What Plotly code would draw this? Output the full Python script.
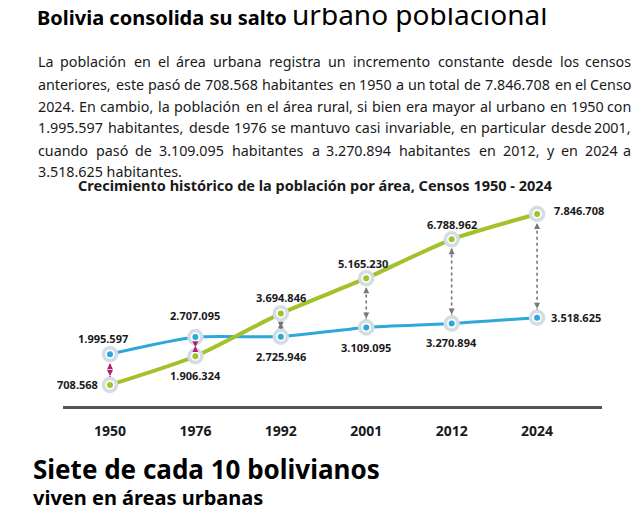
import os
import subprocess
import plotly.graph_objects as go

# ---------------- data ----------------
censos = ["1950", "1976", "1992", "2001", "2012", "2024"]
urbana = [708568, 1906324, 3694846, 5165230, 6788962, 7846708]
rural = [1995597, 2707095, 2725946, 3109095, 3270894, 3518625]

titulo_a = "Bolivia consolida su salto "
titulo_b = "urbano poblacional"
parrafo = [
    "La población en el área urbana registra un incremento constante desde los censos",
    "anteriores, este pasó de 708.568 habitantes en 1950 a un total de 7.846.708 en el Censo",
    "2024. En cambio, la población en el área rural, si bien era mayor al urbano en 1950 con",
    "1.995.597 habitantes, desde 1976 se mantuvo casi invariable, en particular desde 2001,",
    "cuando pasó de 3.109.095 habitantes a 3.270.894 habitantes en 2012, y en 2024 a",
    "3.518.625 habitantes.",
]
subtitulo = "Crecimiento histórico de la población por área, Censos 1950 - 2024"
pie_a = "Siete de cada 10 bolivianos"
pie_b = "viven en áreas urbanas"

# ---------------- styling ----------------
OFF = 8                      # default page margin of the html body
W, H = 641 - 2 * OFF, 517 - 2 * OFF
ML, MR, MT, MB = 63 - OFF, W - (602 - OFF), 200 - OFF, H - (406 - OFF)
GREEN = "#a2c12b"
BLUE = "#2ea7dc"
PINK = "#b3206f"
GREY = "#777777"
TXT = "#1a1a1a"
FONT = "Noto Sans"
PSIZE = 14.3


def fmt(v):
    return f"{v:,}".replace(",", ".")


def px(x):  # page pixel -> paper
    return (x - OFF - ML) / (W - ML - MR)


def py(y):
    return (H - MB - (y - OFF)) / (H - MT - MB)


# ---- text width measurement (for the justified paragraph) ----
def _find_font():
    try:
        p = subprocess.run(["fc-match", "-f", "%{file}", FONT], capture_output=True,
                           text=True, timeout=10).stdout.strip()
        if p and os.path.exists(p):
            return p
    except Exception:
        pass
    for root, _, files in os.walk("/usr/share/fonts"):
        for f in files:
            if f.startswith("NotoSans-Regular") or f.startswith("NotoSans[wdth"):
                return os.path.join(root, f)
    return None


_measure = None
try:
    from PIL import ImageFont
    _p = _find_font()
    if _p:
        _f = ImageFont.truetype(_p, 100)
        _measure = lambda s, size: _f.getlength(s) * size / 100.0
except Exception:
    _measure = None

_W = {" ": 260, ",": 250, ".": 268, "a": 561, "b": 615, "c": 480, "d": 615, "e": 564,
      "f": 344, "g": 615, "h": 618, "i": 258, "j": 258, "k": 539, "l": 258, "m": 937,
      "n": 618, "o": 605, "p": 615, "q": 615, "r": 408, "s": 479, "t": 361, "u": 618,
      "v": 508, "w": 786, "x": 529, "y": 510, "z": 470, "L": 519, "C": 632, "E": 556,
      "á": 561, "é": 564, "í": 258, "ó": 605, "ú": 618}


def text_w(s, size):
    if _measure is not None:
        return _measure(s, size) * 1.02
    return sum(_W.get(ch, 572) for ch in s) * size / 1000.0 * 1.05


fig = go.Figure()
idx = list(range(len(censos)))

# dotted connectors between the two series
for i, u, r in zip(idx, urbana, rural):
    col = PINK if r > u else GREY
    fig.add_trace(go.Scatter(x=[censos[i], censos[i]], y=[min(u, r), max(u, r)], mode="lines",
                             line=dict(color=col, width=1.6, dash="dot"),
                             hoverinfo="skip", showlegend=False))

# lines
fig.add_trace(go.Scatter(x=censos, y=rural, mode="lines",
                         line=dict(color=BLUE, width=3, shape="spline", smoothing=0.6),
                         showlegend=False, hoverinfo="skip"))
fig.add_trace(go.Scatter(x=censos, y=urbana, mode="lines",
                         line=dict(color=GREEN, width=4, shape="spline", smoothing=0.6),
                         showlegend=False, hoverinfo="skip"))

# markers (ring + centre dot)
for vals, col in ((rural, BLUE), (urbana, GREEN)):
    fig.add_trace(go.Scatter(x=censos, y=vals, mode="markers",
                             marker=dict(size=13, color="white",
                                         line=dict(color="#d3dde4", width=3.5)),
                             showlegend=False, hoverinfo="skip"))
    fig.add_trace(go.Scatter(x=censos, y=vals, mode="markers",
                             marker=dict(size=6, color=col),
                             showlegend=False, hoverinfo="skip"))

ann = []
# arrowheads of the connectors
for i, u, r in zip(idx, urbana, rural):
    col = PINK if r > u else GREY
    hi, lo = max(u, r), min(u, r)
    ann.append(dict(x=i, y=hi, xref="x", yref="y", ax=0, ay=13, text="",
                    showarrow=True, arrowhead=2, arrowsize=1, arrowwidth=1.2,
                    arrowcolor=col, standoff=9))
    ann.append(dict(x=i, y=lo, xref="x", yref="y", ax=0, ay=-13, text="",
                    showarrow=True, arrowhead=2, arrowsize=1, arrowwidth=1.2,
                    arrowcolor=col, standoff=9))

# data labels
lab_font = dict(family=FONT, size=11, color=TXT)
urb_pos = [("right", -10, 0), ("center", 0, -19), ("center", 0, 16),
           ("center", -3, 15), ("center", 0, 15), ("left", 15, 3)]
rur_pos = [("center", -7, 16), ("center", 0, 22), ("center", 0, -20),
           ("center", 0, -20), ("center", 0, -19), ("left", 12, 0)]
for i, v, (xa, dx, dy) in zip(idx, urbana, urb_pos):
    ann.append(dict(x=i, y=v, xref="x", yref="y", text="<b>" + fmt(v) + "</b>",
                    showarrow=False, xanchor=xa, xshift=dx, yshift=dy, font=lab_font))
for i, v, (xa, dx, dy) in zip(idx, rural, rur_pos):
    ann.append(dict(x=i, y=v, xref="x", yref="y", text="<b>" + fmt(v) + "</b>",
                    showarrow=False, xanchor=xa, xshift=dx, yshift=dy, font=lab_font))

# title
ann.append(dict(x=px(36), y=py(34), xref="paper", yref="paper", xanchor="left",
                yanchor="bottom", showarrow=False, borderpad=0,
                text="<b>" + titulo_a + "</b><span style='font-size:28px'>" + titulo_b + "</span>",
                font=dict(family=FONT, size=20, color="#000")))

# justified paragraph
LEFT, RIGHT = 37, 632
line_y = [61, 84, 106, 128, 150, 171]
for k, (t, yy) in enumerate(zip(parrafo, line_y)):
    words = t.split(" ")
    if k == len(parrafo) - 1 or len(words) < 2:
        ann.append(dict(x=px(LEFT), y=py(yy), xref="paper", yref="paper", xanchor="left",
                        yanchor="middle", showarrow=False, text=t, borderpad=0,
                        font=dict(family=FONT, size=PSIZE, color=TXT)))
        continue
    widths = [text_w(w, PSIZE) for w in words]
    gap = (RIGHT - LEFT - sum(widths)) / (len(words) - 1)
    xpos = LEFT
    for j, (w, ww) in enumerate(zip(words, widths)):
        last = j == len(words) - 1
        ann.append(dict(x=px(RIGHT if last else xpos), y=py(yy), xref="paper", yref="paper",
                        xanchor="right" if last else "left", yanchor="middle",
                        showarrow=False, text=w, borderpad=0,
                        font=dict(family=FONT, size=PSIZE, color=TXT)))
        xpos += ww + gap

# chart subtitle
ann.append(dict(x=px(315), y=py(185), xref="paper", yref="paper", xanchor="center",
                yanchor="middle", showarrow=False, text="<b>" + subtitulo + "</b>",
                font=dict(family=FONT, size=14.5, color=TXT)))

# footer
ann.append(dict(x=px(32), y=py(469), xref="paper", yref="paper", xanchor="left",
                yanchor="middle", showarrow=False, text="<b>" + pie_a + "</b>", borderpad=0,
                font=dict(family=FONT, size=26, color="#000")))
ann.append(dict(x=px(32), y=py(497), xref="paper", yref="paper", xanchor="left",
                yanchor="middle", showarrow=False, text="<b>" + pie_b + "</b>", borderpad=0,
                font=dict(family=FONT, size=20, color="#000")))

fig.update_layout(
    width=W, height=H, autosize=False,
    margin=dict(l=ML, r=MR, t=MT, b=MB),
    paper_bgcolor="white", plot_bgcolor="white",
    showlegend=False, annotations=ann,
    xaxis=dict(type="category", range=[-0.55, 5.76], showgrid=False, zeroline=False,
               showline=True, linecolor="#555555", linewidth=3, ticks="",
               ticklabelstandoff=10,
               tickfont=dict(family=FONT, size=14, color=TXT, weight="bold")),
    yaxis=dict(range=[-170000, 8430000], visible=False, showgrid=False, zeroline=False),
)

fig.write_html("out.html")
